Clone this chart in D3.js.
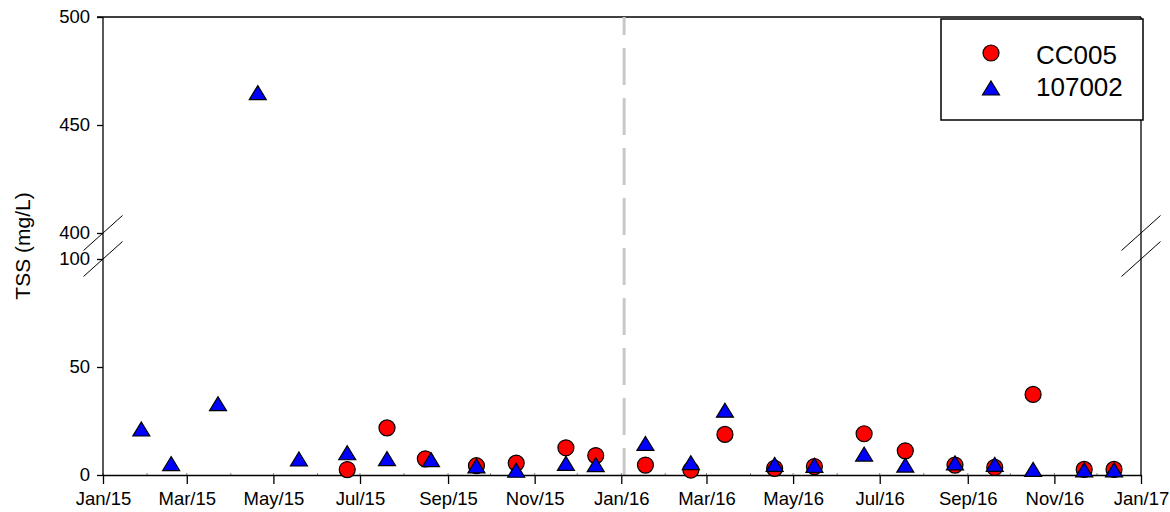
<!DOCTYPE html>
<html>
<head>
<meta charset="utf-8">
<script src="https://cdn.jsdelivr.net/npm/d3@7"></script>
<style>
html,body{margin:0;padding:0;background:#fff;}
svg{display:block;font-family:Arial,"Liberation Sans",sans-serif;}
</style>
</head>
<body>
<svg id="chart" width="1170" height="512"></svg>
<script>
// ---- data ----
const seriesNames = ["CC005", "107002"];
const datesCC005 = ["2015-06-22","2015-07-20","2015-08-16","2015-09-21","2015-10-19","2015-11-23","2015-12-14","2016-01-18","2016-02-19","2016-03-14","2016-04-18","2016-05-16","2016-06-20","2016-07-19","2016-08-23","2016-09-20","2016-10-17","2016-11-22","2016-12-13"];
const valuesCC005 = [2.5, 21.8, 7.5, 4.3, 5.5, 12.6, 9.0, 4.6, 2.3, 18.8, 3.1, 3.9, 19.1, 11.2, 4.6, 3.5, 37.3, 2.6, 2.6];
const dates107002 = ["2015-01-28","2015-02-18","2015-03-23","2015-04-20","2015-05-19","2015-06-22","2015-07-20","2015-08-20","2015-09-21","2015-10-19","2015-11-23","2015-12-14","2016-01-18","2016-02-19","2016-03-14","2016-04-18","2016-05-16","2016-06-20","2016-07-19","2016-08-23","2016-09-20","2016-10-17","2016-11-22","2016-12-13"];
const values107002 = [21.3, 5.3, 33, 465, 7.4, 10.3, 7.6, 7.1, 4.2, 2.2, 5.4, 4.8, 14.6, 5.7, 30, 4.9, 4.5, 9.7, 4.6, 5.6, 4.9, 2.6, 2.4, 2.4];
const xTickDates = ["2015-01-01","2015-03-01","2015-05-01","2015-07-01","2015-09-01","2015-11-01","2016-01-01","2016-03-01","2016-05-01","2016-07-01","2016-09-01","2016-11-01","2017-01-01"];
const yTicksLower = [0, 50, 100];
const yTicksUpper = [400, 450, 500];
const dividerDate = "2016-01-03";
const yTitle = "TSS (mg/L)";

// ---- layout ----
const parse = d3.timeParse("%Y-%m-%d");
const svg = d3.select("#chart");
const pLeft = 103, pRight = 1141, pTop = 17, pBottom = 475;
const x = d3.scaleTime().domain([parse("2015-01-01"), parse("2017-01-01")]).range([pLeft, pRight]);
const yLow = d3.scaleLinear().domain([0, 100]).range([pBottom, 259]);
const yHigh = d3.scaleLinear().domain([400, 500]).range([233, pTop]);
const y = v => v >= 100 ? yHigh(v) : yLow(v);
const fontTick = "18.5px";
const ff = "Arial, 'Liberation Sans', sans-serif";

// frame: top and right lines
svg.append("line").attr("x1", pLeft - 6).attr("x2", pRight).attr("y1", pTop).attr("y2", pTop).attr("stroke", "#000").attr("stroke-width", 1.3);
svg.append("line").attr("x1", pRight).attr("x2", pRight).attr("y1", pTop).attr("y2", pBottom).attr("stroke", "#000").attr("stroke-width", 1.3);

// dashed divider
svg.append("line")
  .attr("x1", x(parse(dividerDate))).attr("x2", x(parse(dividerDate)))
  .attr("y1", pTop).attr("y2", pBottom)
  .attr("stroke", "#c8c8c8").attr("stroke-width", 3)
  .attr("stroke-dasharray", "37,13").attr("stroke-dashoffset", 19);

// minor x ticks (monthly)
const months = d3.timeMonth.range(parse("2015-01-01"), parse("2017-01-01"));
svg.append("g").selectAll("line").data(months).join("line")
  .attr("x1", d => x(d)).attr("x2", d => x(d))
  .attr("y1", pBottom).attr("y2", pBottom - 2)
  .attr("stroke", "#888").attr("stroke-width", 1);

// x axis
const xAxis = d3.axisBottom(x)
  .tickValues(xTickDates.map(parse))
  .tickFormat(d3.timeFormat("%b/%y"))
  .tickSize(9).tickSizeOuter(0).tickPadding(8);
const gx = svg.append("g").attr("transform", `translate(0,${pBottom})`).call(xAxis);
gx.select(".domain").attr("stroke-width", 1.3);
gx.selectAll(".tick line").attr("stroke-width", 1.3);
gx.selectAll("text").attr("font-size", fontTick).attr("font-family", ff).attr("fill", "#000");

// y axes (two segments)
function styleY(g) {
  g.select(".domain").remove();
  g.selectAll(".tick line").attr("stroke-width", 1.3);
  g.selectAll("text").attr("font-size", fontTick).attr("font-family", ff).attr("fill", "#000");
}
svg.append("g").attr("transform", `translate(${pLeft},0)`)
  .call(d3.axisLeft(yLow).tickValues(yTicksLower).tickSize(6).tickPadding(7)).call(styleY);
svg.append("g").attr("transform", `translate(${pLeft},0)`)
  .call(d3.axisLeft(yHigh).tickValues(yTicksUpper).tickSize(6).tickPadding(7)).call(styleY);
svg.append("line").attr("x1", pLeft).attr("x2", pLeft).attr("y1", pTop).attr("y2", pBottom)
  .attr("stroke", "#000").attr("stroke-width", 1.3);

// break marks
[pLeft, pRight].forEach(bx => {
  [yHigh(400), yLow(100)].forEach(by => {
    svg.append("line")
      .attr("x1", bx - 19.5).attr("y1", by + 17.5)
      .attr("x2", bx + 19.5).attr("y2", by - 17.5)
      .attr("stroke", "#000").attr("stroke-width", 1);
  });
});

// y title
svg.append("text")
  .attr("transform", `translate(30,${(192 + 300) / 2}) rotate(-90)`)
  .attr("text-anchor", "middle")
  .attr("font-size", "21px").attr("font-family", ff).attr("fill", "#000")
  .text(yTitle);

// points
const triPath = "M0,-7L8.5,7L-8.5,7Z";
const cc = datesCC005.map((d, i) => ({ date: parse(d), v: valuesCC005[i] }));
const tr = dates107002.map((d, i) => ({ date: parse(d), v: values107002[i] }));
svg.append("g").selectAll("circle").data(cc).join("circle")
  .attr("cx", d => x(d.date)).attr("cy", d => y(d.v)).attr("r", 8)
  .attr("fill", "#ff0000").attr("stroke", "#000").attr("stroke-width", 1.2);
svg.append("g").selectAll("path").data(tr).join("path")
  .attr("d", triPath)
  .attr("transform", d => `translate(${x(d.date)},${y(d.v)})`)
  .attr("fill", "#0000ff").attr("stroke", "#000").attr("stroke-width", 1.2).attr("stroke-linejoin", "miter");

// legend
const lg = svg.append("g");
lg.append("rect").attr("x", 941).attr("y", 19).attr("width", 202).attr("height", 101)
  .attr("fill", "#fff").attr("stroke", "#000").attr("stroke-width", 1.5);
lg.append("circle").attr("cx", 991).attr("cy", 53).attr("r", 8)
  .attr("fill", "#ff0000").attr("stroke", "#000").attr("stroke-width", 1.2);
lg.append("path").attr("d", triPath).attr("transform", "translate(991,88)")
  .attr("fill", "#0000ff").attr("stroke", "#000").attr("stroke-width", 1.2);
lg.selectAll("text").data(seriesNames).join("text")
  .attr("x", 1036).attr("y", (d, i) => i === 0 ? 64 : 96)
  .attr("font-size", "26px").attr("font-family", ff).attr("fill", "#000")
  .text(d => d);
</script>
</body>
</html>
